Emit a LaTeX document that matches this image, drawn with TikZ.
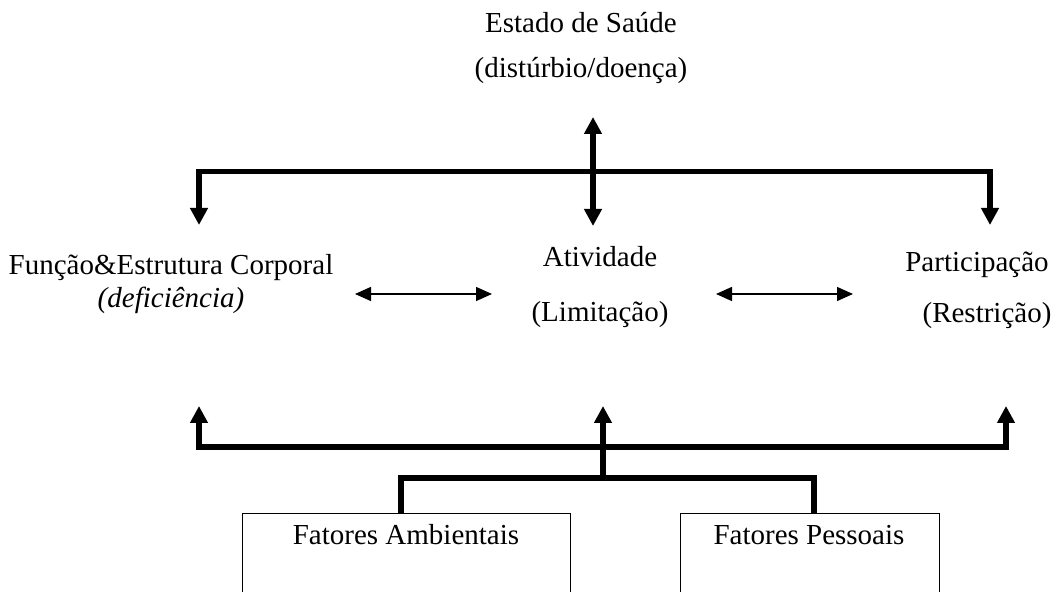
\documentclass[tikz,border=0pt]{standalone}
\usepackage{fontspec}
\setmainfont{Liberation Serif}
\usetikzlibrary{arrows.meta}
\begin{document}
\begin{tikzpicture}[x=0.5pt,y=-0.5pt,
  lbl/.style={inner sep=0pt, anchor=base, font=\fontsize{14.5}{16}\selectfont},
  bus/.style={line width=2.6pt, line join=miter},
  bighead/.style={-{Triangle[length=8.5pt,width=8.5pt]}},
  bigboth/.style={{Triangle[length=8.5pt,width=8.5pt]}-{Triangle[length=8.5pt,width=8.5pt]}},
  thinboth/.style={line width=0.7pt, {Triangle[length=8pt,width=7pt]}-{Triangle[length=8pt,width=7pt]}},
  box/.style={draw, line width=0.5pt, inner sep=0pt, anchor=north west, minimum height=45pt}]
\useasboundingbox (0,0) rectangle (1055,592);
\clip (0,0) rectangle (1055,592);
% texts
\node[lbl] (sau1) at (581,33) {Estado de Saúde};
\node[lbl] (sau2) at (581,78) {(distúrbio/doença)};
\node[lbl] (fun1) at (171,275) {Função\&Estrutura Corporal};
\node[lbl] (fun2) at (171,308) {\itshape (deficiência)};
\node[lbl] (ati1) at (600,267) {Atividade};
\node[lbl] (ati2) at (600,322) {(Limitação)};
\node[lbl] (par1) at (977,272) {Participação};
\node[lbl] (par2) at (987,323) {(Restrição)};
% boxes
\node[box, minimum width=164pt] (amb) at (242,513) {};
\node[box, minimum width=129.5pt] (pes) at (680,513) {};
\node[lbl] (ambt) at (406,545) {Fatores Ambientais};
\node[lbl] (pest) at (809,545) {Fatores Pessoais};
% coordinates top bus
\coordinate (tL) at (199,171.5);
\coordinate (tR) at (990,171.5);
\coordinate (aL) at (199,225);
\coordinate (aR) at (990,225);
\coordinate (cTop) at (593,117);
\coordinate (cBot) at (593,226);
\draw[bus,bigboth] (aL) -- (tL) -- (tR) -- (aR);
\draw[bus,bigboth] (cTop) -- (cBot);
% thin arrows
\coordinate (h1a) at (355,294);
\coordinate (h1b) at (492,294);
\coordinate (h2a) at (716,294);
\coordinate (h2b) at (853,294);
\draw[thinboth] (h1a) -- (h1b);
\draw[thinboth] (h2a) -- (h2b);
% bottom bus
\coordinate (bL) at (199,447);
\coordinate (bR) at (1006,447);
\coordinate (uL) at (199,406);
\coordinate (uR) at (1006,406);
\coordinate (uC) at (603,406);
\coordinate (sC) at (603,478);
\draw[bus,bigboth] (uL) -- (bL) -- (bR) -- (uR);
\draw[bus,bighead] (sC) -- (uC);
\coordinate (lA) at (401,513);
\coordinate (lB) at (814,513);
\draw[bus] (lA) -- (401,478) -- (814,478) -- (lB);
\end{tikzpicture}
\end{document}
